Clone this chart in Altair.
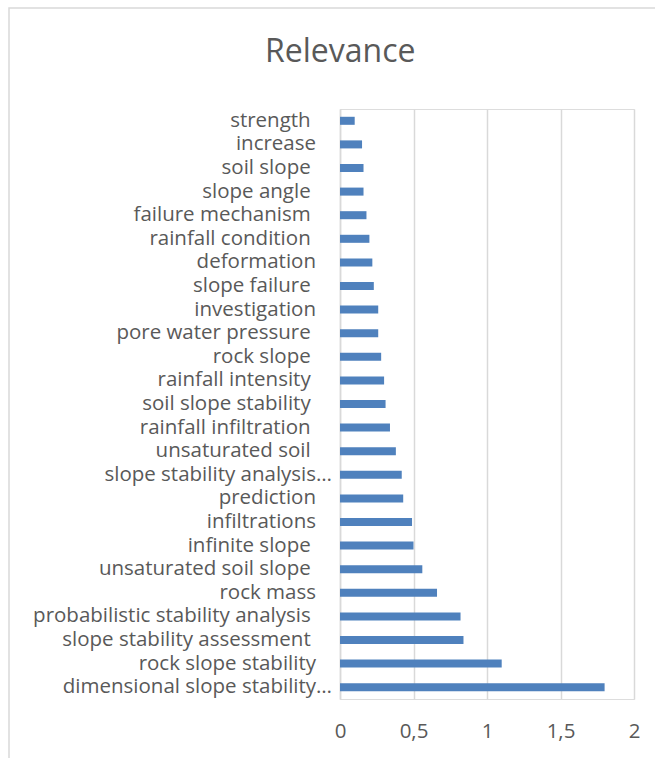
import altair as alt
import pandas as pd

# Keyword relevance scores, listed top to bottom as drawn
categories = [
    "strength ", "increase", "soil slope ", "slope angle ", "failure mechanism ",
    "rainfall condition ", "deformation", "slope failure ", "investigation",
    "pore water pressure ", "rock slope ", "rainfall intensity ", "soil slope stability ",
    "rainfall infiltration ", "unsaturated soil ", "slope stability analysis…",
    "prediction", "infiltrations", "infinite slope ", "unsaturated soil slope ",
    "rock mass", "probabilistic stability analysis ", "slope stability assessment ",
    "rock slope stability", "dimensional slope stability…",
]
relevance = [
    0.10, 0.15, 0.16, 0.16, 0.18, 0.20, 0.22, 0.23, 0.26, 0.26, 0.28, 0.30, 0.31,
    0.34, 0.38, 0.42, 0.43, 0.49, 0.50, 0.56, 0.66, 0.82, 0.84, 1.10, 1.80,
]
x_ticks = [0, 0.5, 1, 1.5, 2]

df = pd.DataFrame({"keyword": categories, "relevance": relevance})

FONT = "Open Sans"
TEXT = "#595959"
GRID = "#d9d9d9"
# Vega trims label text, so the padding spaces end with a zero-width space
PAD = "\u00a0" * 3 + "\u200b"

bars = alt.Chart(df).mark_bar(color="#4f81bd").encode(
    x=alt.X(
        "relevance:Q",
        scale=alt.Scale(domain=[0, 2], nice=False),
        axis=alt.Axis(
            values=x_ticks,
            title=None,
            domain=False,
            ticks=False,
            tickSize=0,
            grid=True,
            gridColor=GRID,
            gridWidth=1.5,
            labelFont=FONT,
            labelFontSize=20.5,
            labelColor=TEXT,
            labelBaseline="middle",
            labelPadding=32,
            labelFlush=False,
            labelExpr="replace(toString(datum.value), '.', ',')",
        ),
    ),
    y=alt.Y(
        "keyword:N",
        sort=categories,
        scale=alt.Scale(paddingInner=0.66, paddingOuter=0.33),
        axis=alt.Axis(
            title=None,
            domain=True,
            domainColor=GRID,
            domainWidth=1.5,
            ticks=False,
            tickSize=0,
            grid=False,
            labelFont=FONT,
            labelFontSize=20.5,
            labelColor=TEXT,
            labelPadding=8.5,
            labelLimit=500,
            labelExpr=(
                "indexof(datum.label, '…') >= 0 ? datum.label : datum.label + '"
                + PAD + "'"
            ),
        ),
    ),
)

# Light chart-area frame (top and left edges fall inside the page)
frame = alt.Chart(pd.DataFrame({"frame": [0]})).mark_rect(
    filled=False, stroke=GRID, strokeWidth=1.5
).encode(
    x=alt.value(-331),
    x2=alt.value(700),
    y=alt.value(-101),
    y2=alt.value(800),
)

chart = (
    alt.layer(frame, bars)
    .properties(
        width=294,
        height=590,
        padding={"left": 340, "top": 109, "right": 21, "bottom": 59},
        autosize=alt.AutoSizeParams(type="none"),
        title=alt.TitleParams(
            "Relevance",
            font=FONT,
            fontSize=32,
            fontWeight="normal",
            color=TEXT,
            anchor="start",
            frame="group",
            dx=-75,
            baseline="alphabetic",
            offset=-87,
        ),
    )
    .configure_view(stroke=None)
    .configure(background="white")
)

chart.save("out.html", embed_options={"renderer": "svg", "actions": False})
